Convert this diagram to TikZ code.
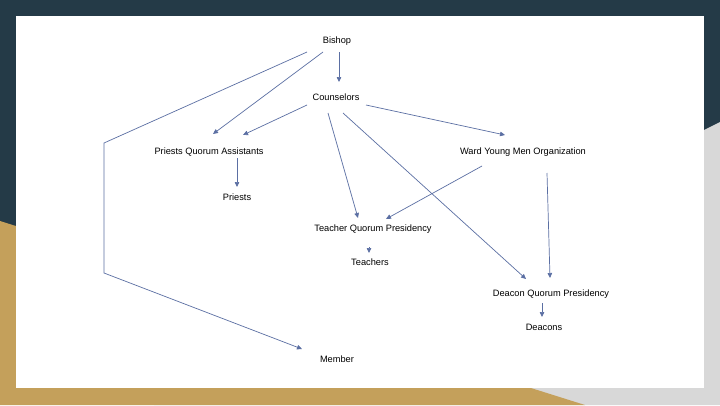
\documentclass[tikz,border=0pt]{standalone}
\usepackage{fontspec}
\setmainfont{Liberation Sans}
\usetikzlibrary{arrows.meta,calc}
\definecolor{slate}{HTML}{243A47}
\definecolor{gold}{HTML}{C4A05B}
\definecolor{lgray}{HTML}{D8D8D8}
\definecolor{arrowc}{HTML}{5B6FA3}
\tikzset{
  lbl/.style={inner sep=0pt, text=black, font=\fontsize{9.25pt}{11pt}\selectfont},
  conn/.style={draw=arrowc, line width=0.7pt, -{Triangle[length=5pt,width=4.5pt]}},
}
\begin{document}
\begin{tikzpicture}[x=1pt,y=-1pt]
\useasboundingbox (0,0) rectangle (720,405);
% background
\fill[slate] (0,0) rectangle (720,405);
\fill[lgray] (720,122) -- (154,405) -- (720,405) -- cycle;
\fill[gold] (0,221) -- (585,405) -- (0,405) -- cycle;
\fill[white] (16,16) rectangle (704,388);
% nodes
\node[lbl] (bishop) at (337,41) {Bishop};
\node[lbl] (couns) at (336,97) {Counselors};
\node[lbl] (pqa) at (209,152) {Priests Quorum Assistants};
\node[lbl] (priests) at (237,197) {Priests};
\node[lbl] (wymo) at (523,152) {Ward Young Men Organization};
\node[lbl] (tqp) at (373,229) {Teacher Quorum Presidency};
\node[lbl] (teachers) at (370,262) {Teachers};
\node[lbl] (dqp) at (551,294) {Deacon Quorum Presidency};
\node[lbl] (deacons) at (544,327) {Deacons};
\node[lbl] (member) at (337,359) {Member};
\coordinate (bendA) at (104,143);
\coordinate (bendB) at (104,273);
% connectors
\draw[conn] ($(bishop)+(2,11)$) -- ($(couns)+(3,-15)$);
\draw[conn] ($(bishop)+(-14,11)$) -- ($(pqa)+(4,-18)$);
\draw[conn] ($(bishop)+(-30,11)$) -- (bendA) -- (bendB) -- ($(member)+(-35,-10)$);
\draw[conn] ($(couns)+(-29,8)$) -- ($(pqa)+(34,-17)$);
\draw[conn] ($(couns)+(-8,16)$) -- ($(tqp)+(-15,-11)$);
\draw[conn] ($(couns)+(7,16)$) -- ($(dqp)+(-25,-15)$);
\draw[conn] ($(couns)+(30,8)$) -- ($(wymo)+(-18,-17)$);
\draw[conn] ($(wymo)+(-41,14)$) -- ($(tqp)+(13,-10)$);
\draw[conn] ($(wymo)+(24,21)$) -- ($(dqp)+(-1,-16)$);
\draw[conn] ($(pqa)+(28,6)$) -- ($(priests)+(0,-10)$);
\draw[conn] ($(tqp)+(-4,18)$) -- ($(teachers)+(-1,-9)$);
\draw[conn] ($(dqp)+(-9,9)$) -- ($(deacons)+(-2,-10)$);
\end{tikzpicture}
\end{document}
